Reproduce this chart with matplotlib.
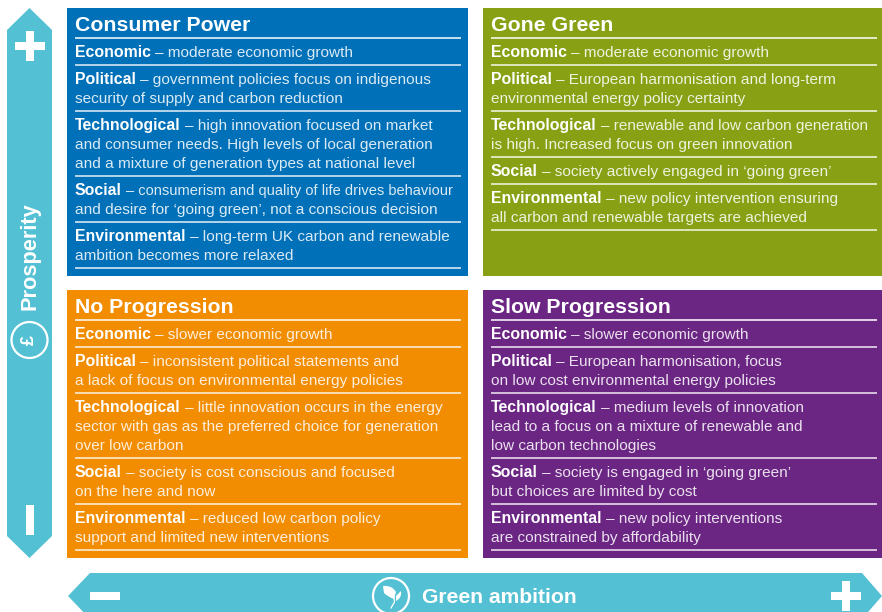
import matplotlib
matplotlib.use("Agg")
import matplotlib.pyplot as plt
from matplotlib.patches import Circle, Polygon, Rectangle, PathPatch
from matplotlib.path import Path

plt.rcParams["font.family"] = ["Liberation Sans", "DejaVu Sans"]

TEAL = "#54c0d4"
WHITE = "#ffffff"
BODY_SIZE = 11.05
MAX_LINE_PX = 378  # the light face in the original never runs far past this

# (bold head, [first line rest, further lines...])
consumer_power = [
    ("Economic", ["– moderate economic growth"]),
    ("Political", ["– government policies focus on indigenous", "security of supply and carbon reduction"]),
    ("Technological", ["– high innovation focused on market", "and consumer needs. High levels of local generation",
                       "and a mixture of generation types at national level"]),
    ("Social", ["– consumerism and quality of life drives behaviour", "and desire for ‘going green’, not a conscious decision"]),
    ("Environmental", ["– long-term UK carbon and renewable", "ambition becomes more relaxed"]),
]
gone_green = [
    ("Economic", ["– moderate economic growth"]),
    ("Political", ["– European harmonisation and long-term", "environmental energy policy certainty"]),
    ("Technological", ["– renewable and low carbon generation", "is high. Increased focus on green innovation"]),
    ("Social", ["– society actively engaged in ‘going green’"]),
    ("Environmental", ["– new policy intervention ensuring", "all carbon and renewable targets are achieved"]),
]
no_progression = [
    ("Economic", ["– slower economic growth"]),
    ("Political", ["– inconsistent political statements and", "a lack of focus on environmental energy policies"]),
    ("Technological", ["– little innovation occurs in the energy", "sector with gas as the preferred choice for generation",
                       "over low carbon"]),
    ("Social", ["– society is cost conscious and focused", "on the here and now"]),
    ("Environmental", ["– reduced low carbon policy", "support and limited new interventions"]),
]
slow_progression = [
    ("Economic", ["– slower economic growth"]),
    ("Political", ["– European harmonisation, focus", "on low cost environmental energy policies"]),
    ("Technological", ["– medium levels of innovation", "lead to a focus on a mixture of renewable and",
                       "low carbon technologies"]),
    ("Social", ["– society is engaged in ‘going green’", "but choices are limited by cost"]),
    ("Environmental", ["– new policy interventions", "are constrained by affordability"]),
]

fig = plt.figure(figsize=(8.82, 6.12), dpi=100)
ax = fig.add_axes([0, 0, 1, 1])
ax.set_xlim(0, 882)
ax.set_ylim(612, 0)
ax.axis("off")
renderer = fig.canvas.get_renderer()


def light_text(x, y, s, limit):
    t = ax.text(x, y, s, color=WHITE, alpha=0.86, fontsize=BODY_SIZE, va="baseline")
    width = t.get_window_extent(renderer).x1
    if width > limit:
        t.set_fontsize(BODY_SIZE * (limit - x) / (width - x))
    return t


def draw_panel(x0, y0, w, h, color, title, sections):
    ax.add_patch(Rectangle((x0, y0), w, h, fc=color, ec="none"))
    ax.text(x0 + 8, y0 + 23, title, color=WHITE, fontsize=15.3, fontweight="bold", va="baseline")
    left, right = x0 + 8, x0 + 394
    limit = left + MAX_LINE_PX
    y = y0 + 30
    ax.plot([left, right], [y, y], color=WHITE, lw=1.1, solid_capstyle="butt")
    for head, lines in sections:
        base = y + 19
        t = ax.text(left, base, head, color=WHITE, fontsize=11.45, fontweight="bold", va="baseline")
        end = t.get_window_extent(renderer).x1
        light_text(end + 4, base, lines[0], limit)
        for i, line in enumerate(lines[1:]):
            light_text(left, base + 19 * (i + 1), line, limit)
        y = base + 19 * (len(lines) - 1) + 8
        ax.plot([left, right], [y, y], color=WHITE, lw=1.1, alpha=0.9, solid_capstyle="butt")


def draw_plus(cx, cy):
    ax.add_patch(Rectangle((cx - 15, cy - 4), 30, 8, fc=WHITE, ec="none"))
    ax.add_patch(Rectangle((cx - 4, cy - 15), 8, 30, fc=WHITE, ec="none"))


draw_panel(67, 8, 401, 268, "#0070b8", "Consumer Power", consumer_power)
draw_panel(483, 8, 399, 268, "#88a114", "Gone Green", gone_green)
draw_panel(67, 290, 401, 268, "#f28c00", "No Progression", no_progression)
draw_panel(483, 290, 399, 268, "#6b2583", "Slow Progression", slow_progression)

# vertical arrow
ax.add_patch(Polygon([(29.5, 8), (52, 30), (52, 536), (29.5, 558), (7, 536), (7, 30)], fc=TEAL, ec="none"))
draw_plus(29.5, 46)
ax.add_patch(Rectangle((26, 505), 8, 30, fc=WHITE, ec="none"))
ax.text(30, 310, "Prosperity", color=WHITE, fontsize=15.7, fontweight="bold", rotation=90,
        ha="center", va="bottom")
ax.add_patch(Circle((29.5, 340), 18, fc="none", ec=WHITE, lw=1.6))
ax.text(29.5, 340, "£", color=WHITE, fontsize=13, fontweight="bold", rotation=90, ha="center", va="center")

# horizontal arrow
ax.add_patch(Polygon([(68, 596), (90, 573), (862, 573), (882, 596), (862, 619), (90, 619)], fc=TEAL, ec="none"))
ax.add_patch(Rectangle((90, 592), 30, 8, fc=WHITE, ec="none"))
draw_plus(846, 596)
ax.add_patch(Circle((391, 596), 18, fc="none", ec=WHITE, lw=1.6))
leaf_a = Path([(383, 586), (392, 585), (396, 592), (394, 599), (388, 597), (384, 593), (383, 586)],
              [Path.MOVETO, Path.CURVE3, Path.CURVE3, Path.LINETO, Path.CURVE3, Path.CURVE3, Path.CLOSEPOLY])
leaf_b = Path([(401, 591), (402, 598), (396, 601), (396, 596), (401, 591)],
              [Path.MOVETO, Path.CURVE3, Path.CURVE3, Path.LINETO, Path.CLOSEPOLY])
ax.add_patch(PathPatch(leaf_a, fc=WHITE, ec="none"))
ax.add_patch(PathPatch(leaf_b, fc=WHITE, ec="none"))
ax.plot([394, 394.5, 391], [597, 602, 608], color=WHITE, lw=0.9)
ax.text(422, 603, "Green ambition", color=WHITE, fontsize=15.2, fontweight="bold", va="baseline")

fig.savefig("out.png", dpi=100)
